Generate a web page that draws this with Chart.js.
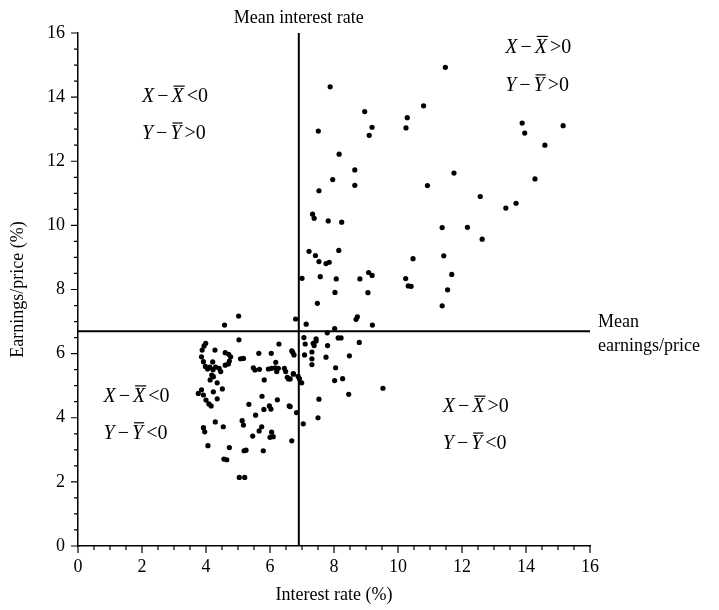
<!DOCTYPE html>
<html>
<head>
<meta charset="utf-8">
<script src="https://cdn.jsdelivr.net/npm/chart.js@4"></script>
<style>
  html, body { margin: 0; padding: 0; background: #fff; }
</style>
</head>
<body>
<canvas id="myChart" width="719" height="610"></canvas>
<script>
// interest rate (%) and earnings/price (%) for each observation
const interestRate = [
  7.88, 8.96, 10.29, 7.51, 9.19, 9.10, 10.25, 8.16, 8.65, 7.96, 8.65, 7.53,
  11.48, 10.80, 13.88, 13.96, 15.16, 14.59, 11.75, 14.28, 10.92, 12.57, 13.37, 13.69,
  11.38, 12.17, 12.63, 10.47, 11.43, 10.24, 10.32, 10.41, 11.68, 11.55, 11.38,
  7.33, 7.38, 7.82, 8.24, 7.22, 8.15, 7.42, 7.53, 7.75, 7.85, 7.00, 7.57, 8.07,
  8.81, 9.08, 9.19, 8.03, 9.06, 7.48, 7.13, 8.69, 8.73, 9.20,
  8.02, 7.79, 7.06, 7.44, 8.13, 8.22, 7.10, 7.35, 7.44, 7.38, 8.79, 7.80, 7.08,
  7.31, 7.31, 7.75, 8.48, 7.31, 8.05, 6.99, 8.02, 8.27, 9.53, 8.46, 7.53, 7.50, 7.04,
  6.80, 5.02, 4.58,
  6.71, 6.75, 6.73, 6.88, 6.92, 6.63, 6.63, 6.83, 6.68,
  5.03, 6.28, 3.99, 3.94, 4.28, 4.60, 4.71, 4.77, 5.65, 6.04, 6.68, 3.86, 3.92,
  4.21, 4.73, 4.70, 5.08, 5.17, 6.18, 3.98, 4.05, 4.12, 4.22, 4.30, 4.41, 4.46,
  4.60, 5.48, 5.53, 5.67, 5.95, 6.05, 6.16, 6.26, 6.21, 6.45, 6.49, 6.54, 6.58,
  6.73, 5.82, 4.18, 4.13, 4.23, 4.35, 4.51, 3.86, 3.92, 4.23, 4.35, 4.09, 4.16,
  5.34, 5.75, 6.23, 5.81, 5.98, 6.03, 6.60, 5.55, 4.29, 4.54, 5.13, 5.17, 5.74,
  5.66, 3.92, 3.96, 5.46, 6.05, 6.00, 6.10, 4.06, 4.73, 5.19, 5.25, 5.79, 4.56,
  4.65, 5.04, 5.21, 3.76, 4.00, 3.88
];
const earningsPrice = [
  14.32, 13.55, 13.36, 12.94, 13.06, 12.81, 13.04, 12.22, 11.73, 11.43, 11.25, 11.08,
  14.93, 13.73, 13.19, 12.88, 13.11, 12.50, 11.63, 11.45, 11.24, 10.90, 10.54, 10.69,
  9.93, 9.94, 9.57, 8.96, 9.05, 8.34, 8.11, 8.10, 8.47, 7.99, 7.49,
  10.35, 10.22, 10.14, 10.10, 9.19, 9.22, 9.06, 8.87, 8.81, 8.85, 8.35, 8.40, 8.33,
  8.33, 8.53, 8.44, 7.91, 7.90, 7.57, 6.92, 7.07, 7.15, 6.89,
  6.78, 6.65, 6.50, 6.46, 6.49, 6.49, 6.30, 6.32, 6.39, 6.25, 6.35, 6.25, 5.96,
  6.05, 5.84, 5.89, 5.93, 5.66, 5.56, 5.09, 5.16, 5.22, 4.92, 4.73, 4.58, 4.00, 3.81,
  7.08, 7.17, 6.89,
  6.04, 5.96, 5.38, 5.29, 5.22, 5.21, 4.35, 4.16, 3.28,
  6.43, 6.30, 6.32, 6.24, 6.11, 6.03, 5.98, 5.90, 6.01, 6.01, 6.09, 5.90, 5.75,
  5.74, 5.77, 5.68, 5.84, 5.85, 5.73, 5.60, 5.52, 5.58, 5.50, 5.58, 5.54, 5.44,
  5.64, 5.56, 5.49, 5.51, 5.52, 5.54, 5.56, 5.54, 5.44, 5.54, 5.44, 5.26, 5.21,
  5.36, 5.18, 5.33, 5.18, 5.28, 5.09, 4.90, 4.87, 4.71, 4.81, 4.59, 4.43, 4.37,
  4.42, 4.67, 4.56, 4.26, 4.37, 4.27, 4.37, 4.08, 3.87, 3.72, 3.91, 3.77, 3.72,
  3.59, 3.69, 3.56, 3.43, 3.55, 3.39, 3.41, 3.13, 3.07, 2.97, 2.99, 2.97, 2.71,
  2.69, 2.14, 2.14, 4.76, 4.55, 6.11
];

const xTickValues = [0, 2, 4, 6, 8, 10, 12, 14, 16];
const yTickValues = [0, 2, 4, 6, 8, 10, 12, 14, 16];
const meanInterestRate = 6.9;
const meanEarningsPrice = 6.7;

// sign labels for the four quadrants, placed in data units
const quadrantLabels = [
  { x: 2.0, y: 14.0, v: 'X', op: '<' },
  { x: 2.0, y: 12.85, v: 'Y', op: '>' },
  { x: 13.35, y: 15.55, v: 'X', op: '>' },
  { x: 13.35, y: 14.35, v: 'Y', op: '>' },
  { x: 0.8, y: 4.65, v: 'X', op: '<' },
  { x: 0.8, y: 3.5, v: 'Y', op: '<' },
  { x: 11.4, y: 4.33, v: 'X', op: '>' },
  { x: 11.4, y: 3.18, v: 'Y', op: '<' }
];

const serif = '"Liberation Serif", "Times New Roman", serif';

function drawSign(ctx, x, y, v, op) {
  const gap = 3;
  ctx.textBaseline = 'middle';
  ctx.textAlign = 'left';
  const italic = 'italic 20px ' + serif;
  const upright = '20px ' + serif;
  let cx = x;
  ctx.font = italic;
  ctx.fillText(v, cx, y);
  cx += ctx.measureText(v).width + gap;
  ctx.font = upright;
  ctx.fillText('\u2212', cx, y);
  cx += ctx.measureText('\u2212').width + gap;
  ctx.font = italic;
  const w = ctx.measureText(v).width;
  ctx.fillText(v, cx, y);
  // bar over the mean
  ctx.beginPath();
  ctx.lineWidth = 1.2;
  ctx.moveTo(cx + 2, y - 11);
  ctx.lineTo(cx + w + 1, y - 11);
  ctx.stroke();
  cx += w + gap;
  ctx.font = upright;
  ctx.fillText(op, cx, y);
  cx += ctx.measureText(op).width;
  ctx.fillText('0', cx, y);
}

const meanLines = {
  id: 'meanLines',
  beforeDatasetsDraw(chart) {
    const { ctx, scales: { x, y } } = chart;
    const mx = x.getPixelForValue(meanInterestRate);
    const my = y.getPixelForValue(meanEarningsPrice);
    ctx.save();
    ctx.strokeStyle = '#000';
    ctx.lineWidth = 2;
    ctx.beginPath();
    ctx.moveTo(mx, y.getPixelForValue(16));
    ctx.lineTo(mx, y.getPixelForValue(0));
    ctx.moveTo(x.getPixelForValue(0), my);
    ctx.lineTo(x.getPixelForValue(16), my);
    ctx.stroke();
    ctx.restore();
  },
  afterDraw(chart) {
    const { ctx, scales: { x, y } } = chart;
    ctx.save();
    ctx.fillStyle = '#000';
    ctx.strokeStyle = '#000';

    // minor and major tick marks
    ctx.lineWidth = 1.2;
    for (let v = 0; v <= 16; v += 0.5) {
      const len = v % 2 === 0 ? 7 : 4;
      const px = x.getPixelForValue(v);
      const py = y.getPixelForValue(v);
      ctx.beginPath();
      ctx.moveTo(px, x.top);
      ctx.lineTo(px, x.top + len);
      ctx.moveTo(y.right, py);
      ctx.lineTo(y.right - len, py);
      ctx.stroke();
    }

    ctx.font = '18px ' + serif;
    ctx.textBaseline = 'middle';
    ctx.textAlign = 'center';
    ctx.fillText('Mean interest rate', x.getPixelForValue(meanInterestRate), 18);
    ctx.textAlign = 'left';
    const my = y.getPixelForValue(meanEarningsPrice);
    ctx.fillText('Mean', x.right + 8, my - 9);
    ctx.fillText('earnings/price', x.right + 8, my + 15);

    quadrantLabels.forEach(q => {
      drawSign(ctx, x.getPixelForValue(q.x), y.getPixelForValue(q.y), q.v, q.op);
    });
    ctx.restore();
  }
};

const points = interestRate.map((r, i) => ({ x: r, y: earningsPrice[i] }));

new Chart(document.getElementById('myChart').getContext('2d'), {
  type: 'scatter',
  data: {
    datasets: [{
      data: points,
      backgroundColor: '#000',
      borderColor: '#000',
      pointRadius: 2.6,
      pointBorderWidth: 0
    }]
  },
  options: {
    responsive: false,
    animation: false,
    layout: { padding: { top: 33, right: 129, left: 0, bottom: 0 } },
    plugins: { legend: { display: false }, tooltip: { enabled: false } },
    scales: {
      x: {
        type: 'linear',
        min: 0,
        max: 16,
        afterFit: s => { s.height = 64; },
        afterBuildTicks: s => { s.ticks = xTickValues.map(v => ({ value: v })); },
        grid: { display: false, drawTicks: false },
        border: { display: true, color: '#000', width: 1.5 },
        ticks: { color: '#000', padding: 10, font: { family: serif, size: 18 } },
        title: {
          display: true,
          text: 'Interest rate (%)',
          color: '#000',
          padding: { top: 0, bottom: 4 },
          font: { family: serif, size: 18 }
        }
      },
      y: {
        type: 'linear',
        min: 0,
        max: 16,
        afterFit: s => { s.width = 78; },
        afterBuildTicks: s => { s.ticks = yTickValues.map(v => ({ value: v })); },
        grid: { display: false, drawTicks: false },
        border: { display: true, color: '#000', width: 1.5 },
        ticks: { color: '#000', padding: 13, font: { family: serif, size: 18 } },
        title: {
          display: true,
          text: 'Earnings/price (%)',
          color: '#000',
          padding: { top: 7, bottom: 0 },
          font: { family: serif, size: 18 }
        }
      }
    }
  },
  plugins: [meanLines]
});
</script>
</body>
</html>
